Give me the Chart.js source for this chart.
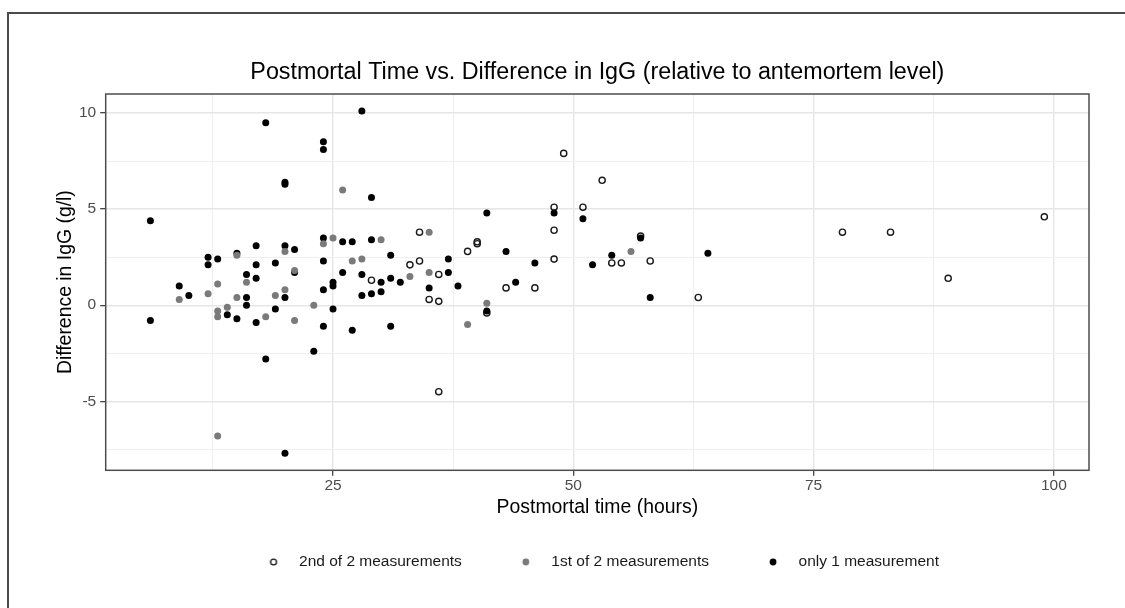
<!DOCTYPE html>
<html>
<head>
<meta charset="utf-8">
<script src="https://cdn.jsdelivr.net/npm/chart.js@4.4.1/dist/chart.umd.min.js"></script>
<style>
html, body { margin: 0; padding: 0; background: #ffffff; }
#wrap { position: relative; width: 1125px; height: 608px; overflow: hidden; background: #fff; }
#frame { position: absolute; left: 7px; top: 12px; width: 1300px; height: 800px;
         border-left: 2px solid #4a4a4a; border-top: 2px solid #4a4a4a; }
#c { position: absolute; left: 0; top: 0; }
</style>
</head>
<body>
<div id="wrap">
  <div id="frame"></div>
  <canvas id="c" width="1125" height="608"></canvas>
</div>
<script>
// ---- data ----
const secondX = [29, 33, 34, 34, 35, 36, 36, 36, 39, 40, 40, 41, 43, 46, 48, 48, 48, 49, 51, 53, 54, 55, 57, 58, 63, 78, 83, 89, 99];
const secondY = [1.3, 2.1, 2.3, 3.8, 0.3, 1.6, 0.2, -4.5, 2.8, 3.3, 3.2, -0.4, 0.9, 0.9, 5.1, 3.9, 2.4, 7.9, 5.1, 6.5, 2.2, 2.2, 3.6, 2.3, 0.4, 3.8, 3.8, 1.4, 4.6];

const firstX = [9, 12, 13, 13, 13, 13, 14, 15, 15, 16, 18, 19, 20, 20, 21, 21, 23, 24, 25, 26, 27, 28, 30, 33, 35, 35, 39, 41, 56];
const firstY = [0.3, 0.6, 1.1, -0.3, -0.6, -6.8, -0.1, 2.6, 0.4, 1.2, -0.6, 0.5, 2.8, 0.8, 1.8, -0.8, 0.0, 3.2, 3.5, 6.0, 2.3, 2.4, 3.4, 1.5, 1.7, 3.8, -1.0, 0.1, 2.8];

const onlyX = [6, 6, 9, 10, 12, 12, 13, 14, 15, 15, 16, 16, 16, 17, 17, 17, 17, 18, 18, 19, 19, 20, 20, 20, 20, 20, 21, 21, 23, 24, 24, 24, 24, 24, 24, 25, 25, 25, 26, 26, 27, 27, 28, 28, 28, 29, 29, 29, 30, 30, 31, 31, 31, 32, 35, 37, 37, 38, 41, 41, 43, 44, 46, 48, 51, 52, 54, 57, 58, 64];
const onlyY = [4.4, -0.8, 1.0, 0.5, 2.5, 2.1, 2.4, -0.5, 2.7, -0.7, 1.6, 0.4, 0.0, 3.1, 2.1, 1.4, -0.9, 9.5, -2.8, 2.2, -0.2, 6.4, 6.3, 3.1, 0.4, -7.7, 2.9, 1.7, -2.4, 8.5, 8.1, 3.5, 2.3, 0.8, -1.1, 1.2, 1.0, -0.2, 3.3, 1.7, 3.3, -1.3, 10.1, 1.6, 0.5, 5.6, 3.4, 0.6, 1.2, 0.7, 2.6, 1.4, -1.1, 1.2, 0.9, 2.4, 1.7, 1.0, 4.8, -0.3, 2.8, 1.2, 2.2, 4.8, 4.5, 2.1, 2.6, 3.5, 0.4, 2.7];

const xMajorTicks = [25, 50, 75, 100];
const xMinorTicks = [12.5, 37.5, 62.5, 87.5];
const yMajorTicks = [-5, 0, 5, 10];
const yMinorTicks = [-7.5, -2.5, 2.5, 7.5];

const seriesLabels = ['2nd of 2 measurements', '1st of 2 measurements', 'only 1 measurement'];
const titleText = 'Postmortal Time vs. Difference in IgG (relative to antemortem level)';
const xTitle = 'Postmortal time (hours)';
const yTitle = 'Difference in IgG (g/l)';

// ---- helpers ----
const FONT = "'Liberation Sans', Arial, Helvetica, sans-serif";
function toPoints(xs, ys) { return xs.map((x, i) => ({ x: x, y: ys[i] })); }
function tickSetter(major, minor) {
  return function (scale) {
    scale.ticks = major.concat(minor).sort((a, b) => a - b).map(v => ({ value: v }));
  };
}
function isMajor(list, ctx) { return ctx.tick && list.includes(ctx.tick.value); }
function marker(kind) {
  const c = document.createElement('canvas');
  c.width = 12; c.height = 12;
  const g = c.getContext('2d');
  g.beginPath();
  if (kind === 'open') {
    g.arc(6, 6, 2.9, 0, Math.PI * 2);
    g.lineWidth = 1.4; g.strokeStyle = '#1a1a1a'; g.stroke();
  } else {
    g.arc(6, 6, 3.4, 0, Math.PI * 2);
    g.fillStyle = kind === 'gray' ? '#7a7a7a' : '#000000'; g.fill();
  }
  return c;
}
const legendMarkers = [marker('open'), marker('gray'), marker('black')];

const panelBorder = {
  id: 'panelBorder',
  afterDraw(chart) {
    const a = chart.chartArea, ctx = chart.ctx;
    ctx.save();
    ctx.strokeStyle = '#4d4d4d';
    ctx.lineWidth = 1.5;
    ctx.strokeRect(a.left, a.top, a.right - a.left, a.bottom - a.top);
    ctx.restore();
  }
};

new Chart(document.getElementById('c'), {
  type: 'scatter',
  data: {
    datasets: [
      { label: seriesLabels[0], data: toPoints(secondX, secondY), order: 3,
        pointRadius: 3.1, pointBorderWidth: 1.4, pointBorderColor: '#1a1a1a', pointBackgroundColor: 'rgba(0,0,0,0)',
        borderColor: '#1a1a1a', backgroundColor: 'rgba(0,0,0,0)' },
      { label: seriesLabels[1], data: toPoints(firstX, firstY), order: 1,
        pointRadius: 3.5, pointBorderWidth: 0, pointBackgroundColor: '#7a7a7a',
        borderColor: '#7a7a7a', backgroundColor: '#7a7a7a' },
      { label: seriesLabels[2], data: toPoints(onlyX, onlyY), order: 2,
        pointRadius: 3.5, pointBorderWidth: 0, pointBackgroundColor: '#000000',
        borderColor: '#000000', backgroundColor: '#000000' }
    ]
  },
  options: {
    responsive: false,
    devicePixelRatio: 1,
    animation: false,
    events: [],
    layout: { padding: { left: 0, right: 36, top: 0, bottom: 28.25 } },
    scales: {
      x: {
        type: 'linear', min: 1.35, max: 103.65,
        afterBuildTicks: tickSetter(xMajorTicks, xMinorTicks),
        afterFit(scale) { scale.height = 37.7; },
        border: { display: false },
        grid: {
          color: ctx => isMajor(xMajorTicks, ctx) ? '#e6e6e6' : '#efefef',
          lineWidth: ctx => isMajor(xMajorTicks, ctx) ? 1.4 : 1.0,
          tickColor: ctx => isMajor(xMajorTicks, ctx) ? '#333333' : 'rgba(0,0,0,0)',
          tickWidth: 1.2,
          tickLength: 5.5,
          drawTicks: true
        },
        ticks: {
          autoSkip: false, maxRotation: 0, padding: 0.9,
          color: '#4d4d4d', font: { family: FONT, size: 15.5 },
          callback: v => xMajorTicks.includes(v) ? String(v) : ''
        },
        title: {
          display: true, text: xTitle, color: '#000000',
          font: { family: FONT, size: 19.4 },
          padding: { top: 0, bottom: -11.64 }
        }
      },
      y: {
        type: 'linear', min: -8.59, max: 10.99,
        afterBuildTicks: tickSetter(yMajorTicks, yMinorTicks),
        afterFit(scale) { scale.width = 105.7; },
        border: { display: false },
        grid: {
          color: ctx => isMajor(yMajorTicks, ctx) ? '#e6e6e6' : '#efefef',
          lineWidth: ctx => isMajor(yMajorTicks, ctx) ? 1.4 : 1.0,
          tickColor: ctx => isMajor(yMajorTicks, ctx) ? '#333333' : 'rgba(0,0,0,0)',
          tickWidth: 1.2,
          tickLength: 5.5,
          drawTicks: true
        },
        ticks: {
          autoSkip: false, padding: 4,
          color: '#4d4d4d', font: { family: FONT, size: 15.5 },
          callback: v => yMajorTicks.includes(v) ? String(v) : ''
        },
        title: {
          display: true, text: yTitle, color: '#000000',
          font: { family: FONT, size: 19.4 },
          padding: { top: 54.36, bottom: 0 }
        }
      }
    },
    plugins: {
      title: {
        display: true, text: titleText, fullSize: false, color: '#000000',
        font: { family: FONT, size: 23.3, weight: 'normal' },
        padding: { top: 59.02, bottom: 7.02 }
      },
      legend: {
        display: true, position: 'bottom', fullSize: false, align: 'center',
        labels: {
          usePointStyle: true, pointStyleWidth: 35.5, padding: 46.25,
          color: '#1a1a1a', font: { family: FONT, size: 15.5 },
          generateLabels: chart => chart.data.datasets.map((ds, i) => ({
            text: ds.label, pointStyle: legendMarkers[i], fillStyle: ds.backgroundColor,
            strokeStyle: ds.borderColor, lineWidth: 0, hidden: false, datasetIndex: i,
            fontColor: '#1a1a1a'
          }))
        }
      },
      tooltip: { enabled: false }
    }
  },
  plugins: [panelBorder]
});
</script>
</body>
</html>
